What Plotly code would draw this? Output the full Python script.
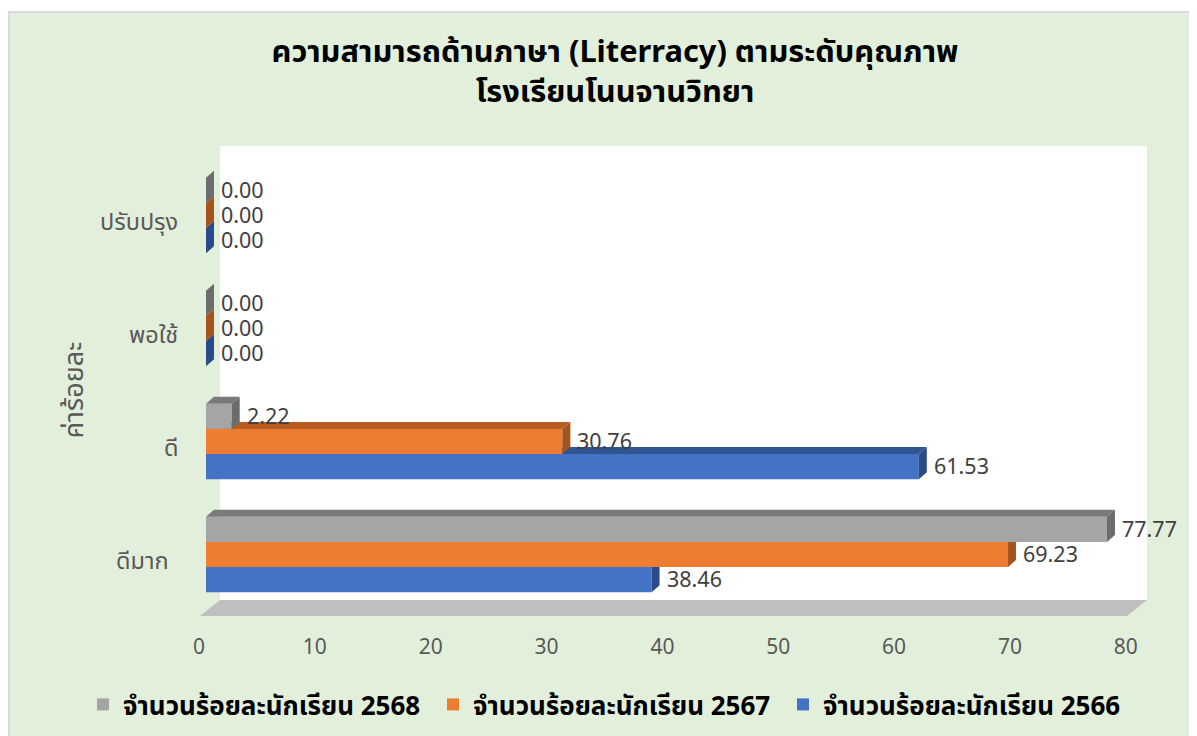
import plotly.graph_objects as go

# values, bottom category first
categories = ['ดีมาก', 'ดี', 'พอใช้', 'ปรับปรุง']
y_pos = [0, 1, 2, 3]
values_2566 = [38.46, 61.53, 0.00, 0.00]
values_2567 = [69.23, 30.76, 0.00, 0.00]
values_2568 = [77.77, 2.22, 0.00, 0.00]
x_ticks = [0, 10, 20, 30, 40, 50, 60, 70, 80]

FONT = 'Noto Sans, Noto Sans Thai, sans-serif'
W, H = 1189, 728   # page body adds an 8px margin
BAR_H = 0.223      # one bar, in category units
DX, DY = 0.69, 0.062  # 3d depth of a bar, in axis units


def px(x):
    return (x - 8) / W


def py(y):
    return 1 - (y - 8) / H


series = [
    ('จำนวนร้อยละนักเรียน 2566', values_2566, '#4472c4', '#2a4b87', '#30548f', -1),
    ('จำนวนร้อยละนักเรียน 2567', values_2567, '#ed7d31', '#a5541d', '#b55d22', 0),
    ('จำนวนร้อยละนักเรียน 2568', values_2568, '#a5a5a5', '#6c6c6c', '#7a7a7a', 1),
]

fig = go.Figure()
annotations = []

for i, (name, vals, col, side, top, slot) in enumerate(series):
    fig.add_trace(go.Bar(
        x=vals, y=[p + slot * BAR_H for p in y_pos], width=BAR_H, orientation='h',
        name=name, marker=dict(color=col, line=dict(width=0)),
        zorder=i, hoverinfo='x+name',
    ))
    for v, p in zip(vals, y_pos):
        y0 = p + slot * BAR_H - BAR_H / 2
        y1 = y0 + BAR_H
        # top face
        fig.add_trace(go.Scatter(
            x=[0, v, v + DX, DX, 0], y=[y1, y1, y1 + DY, y1 + DY, y1],
            mode='lines', fill='toself', fillcolor=top, line=dict(width=0),
            showlegend=False, hoverinfo='skip', zorder=i,
        ))
        # end face
        fig.add_trace(go.Scatter(
            x=[v, v + DX, v + DX, v, v], y=[y0, y0 + DY, y1 + DY, y1, y0],
            mode='lines', fill='toself', fillcolor=side, line=dict(width=0),
            showlegend=False, hoverinfo='skip', zorder=i,
        ))
        annotations.append(dict(
            text=f'{v:.2f}', x=v, y=p + slot * BAR_H, xref='x', yref='y',
            xanchor='left', xshift=13, yshift=1, showarrow=False,
            font=dict(size=21.5, color='#404040', family=FONT),
        ))

# category labels sit a little lower and left because of the 3d tilt
label_shift = [-35, -26, -26, -26]
for cat, p, sh in zip(categories, y_pos, label_shift):
    annotations.append(dict(
        text=cat, x=0, y=p, xref='x', yref='y', xanchor='right', xshift=sh, yshift=-5,
        showarrow=False, font=dict(size=23.5, color='#595959', family=FONT),
    ))

annotations.append(dict(
    text='ค่าร้อยละ', x=px(51), y=py(390), xref='paper', yref='paper', textangle=-90,
    showarrow=False, font=dict(size=27, color='#595959', family=FONT),
))

shapes = [
    dict(type='rect', xref='paper', yref='paper', x0=px(9), x1=px(1210), y0=py(750), y1=py(12),
         fillcolor='#e2efda', line=dict(color='#d9d9d9', width=2), layer='below'),
    dict(type='rect', xref='paper', yref='paper', x0=px(220), x1=px(1147), y0=py(600), y1=py(146),
         fillcolor='white', line=dict(width=0), layer='below'),
    dict(type='path', xref='paper', yref='paper', layer='below', fillcolor='#bfbfbf', line=dict(width=0),
         path=f'M{px(220)},{py(600)} L{px(1147)},{py(600)} L{px(1127)},{py(616)} L{px(200)},{py(616)} Z'),
]

fig.update_layout(
    width=W,
    height=H,
    margin=dict(l=0, r=0, t=0, b=0, autoexpand=False),
    paper_bgcolor='white',
    plot_bgcolor='rgba(0,0,0,0)',
    barmode='overlay',
    font=dict(family=FONT),
    title=dict(
        text='<b>ความสามารถด้านภาษา (Literracy) ตามระดับคุณภาพ<br>โรงเรียนโนนจานวิทยา</b>',
        x=px(615), y=py(62), xanchor='center', yanchor='top',
        font=dict(size=30.8, color='black', family=FONT),
    ),
    xaxis=dict(
        domain=[px(206), px(1132.8)], range=[0, 80], tickvals=x_ticks, showgrid=False, zeroline=False,
        ticks='', ticklabelshift=-7, ticklabelstandoff=21, anchor='y',
        tickfont=dict(size=21, color='#595959', family=FONT),
    ),
    yaxis=dict(
        domain=[py(611), py(159)], range=[-0.5, 3.5], showticklabels=False, showgrid=False,
        zeroline=False, anchor='x',
    ),
    legend=dict(
        orientation='h', x=px(83), y=py(728), xanchor='left', yanchor='bottom',
        traceorder='reversed', entrywidth=305, entrywidthmode='pixels',
        font=dict(size=26, color='black', family=FONT, weight='bold'),
        bgcolor='rgba(0,0,0,0)',
    ),
    annotations=annotations,
    shapes=shapes,
)

fig.write_html("out.html")
